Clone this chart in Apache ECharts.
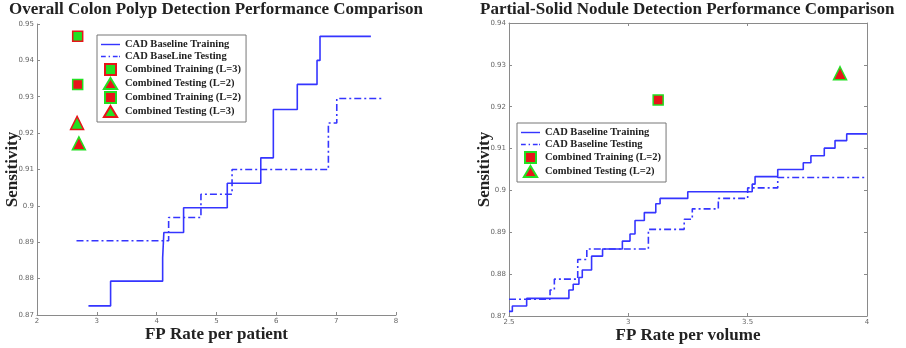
<!DOCTYPE html>
<html><head><meta charset="utf-8">
<script src="https://cdn.jsdelivr.net/npm/echarts@6/dist/echarts.min.js"></script>
<style>html,body{margin:0;padding:0;background:#fff}#c{width:906px;height:348px}</style>
</head><body><div id="c"></div>
<script>
// ---- Left chart: Overall Colon Polyp ----
const L_trainX = [2.86, 3.23, 4.10, 4.12, 4.45, 5.18, 5.74, 5.95, 6.35, 6.68, 6.73, 7.58];
const L_trainY = [0.8725, 0.8793, 0.8857, 0.8927, 0.8995, 0.9062, 0.9132, 0.9265, 0.9334, 0.9400, 0.9466, 0.9466];
const L_testX = [2.66, 4.20, 4.74, 5.26, 6.87, 7.01, 7.78];
const L_testY = [0.8904, 0.8968, 0.9032, 0.9100, 0.9228, 0.9295, 0.9295];
const L_ctrain3 = [2.68, 0.9466];
const L_ctest2 = [2.70, 0.9172];
const L_ctrain2 = [2.68, 0.9334];
const L_ctest3 = [2.67, 0.9228];
// ---- Right chart: Partial-Solid Nodule ----
const R_trainX = [2.50, 2.514, 2.574, 2.751, 2.769, 2.793, 2.807, 2.846, 2.892, 2.975, 3.007, 3.028, 3.067, 3.115, 3.133, 3.249, 3.519, 3.531, 3.626, 3.733, 3.765, 3.821, 3.866, 3.915, 4.00];
const R_trainY = [0.8711, 0.8724, 0.8742, 0.8762, 0.8776, 0.8792, 0.8810, 0.8843, 0.8860, 0.8879, 0.8896, 0.8928, 0.8947, 0.8968, 0.8981, 0.8997, 0.9015, 0.9033, 0.9050, 0.9066, 0.9083, 0.9101, 0.9119, 0.9135, 0.9135];
const R_testX = [2.50, 2.672, 2.690, 2.788, 2.826, 3.084, 3.234, 3.268, 3.377, 3.500, 3.626, 4.00];
const R_testY = [0.8740, 0.8762, 0.8788, 0.8835, 0.8860, 0.8907, 0.8931, 0.8956, 0.8981, 0.9006, 0.9031, 0.9031];
const R_ctrain2 = [3.125, 0.9216];
const R_ctest2 = [3.887, 0.9280];
// tick labels
const L_xTicks = [2, 3, 4, 5, 6, 7, 8];
const L_yTicks = [0.87, 0.88, 0.89, 0.9, 0.91, 0.92, 0.93, 0.94, 0.95];
const R_xTicks = [2.5, 3, 3.5, 4];
const R_yTicks = [0.87, 0.88, 0.89, 0.9, 0.91, 0.92, 0.93, 0.94];

const zip = (xs, ys) => xs.map((x, i) => [x, ys[i]]);
const serif = 'Liberation Serif';
const BLUE = '#3535ff', GREEN = '#22e022', RED = '#e8141a';
const axisGray = '#8a8a8a';
const SQ = 'path://M0,0L10,0L10,10L0,10Z';
const TRI = 'path://M6,0L12,10L0,10Z';
const SOLID = 'path://M0,0L20,0L20,1.5L0,1.5Z';
const DASHDOT = 'path://M0,0L5,0L5,1.5L0,1.5Z M8,0L9.5,0L9.5,1.5L8,1.5Z M12.5,0L17.5,0L17.5,1.5L12.5,1.5Z M19,0L20,0L20,1.5L19,1.5Z';

function xAxis(grid, min, max, interval, name, pos, show) {
  return {
    type: 'value', gridIndex: grid, min, max, interval, position: pos,
    name: show ? name : '', nameLocation: 'middle', nameGap: 11, nameMoveOverlap: false,
    nameTextStyle: {fontFamily: serif, fontWeight: 'bold', fontSize: 17, color: '#222'},
    axisLine: {show: true, onZero: false, lineStyle: {color: axisGray, width: 1}},
    axisTick: {show: true, inside: true, length: 3, lineStyle: {color: axisGray}},
    axisLabel: {show: show, fontSize: 7, color: '#666', margin: 3, fontFamily: 'DejaVu Sans'},
    splitLine: {show: false}
  };
}
function yAxis(grid, min, max, interval, name, pos, show) {
  return {
    type: 'value', gridIndex: grid, min, max, interval, position: pos,
    name: show ? name : '', nameLocation: 'middle', nameGap: 16, nameMoveOverlap: false,
    nameTextStyle: {fontFamily: serif, fontWeight: 'bold', fontSize: 17, color: '#222'},
    axisLine: {show: true, onZero: false, lineStyle: {color: axisGray, width: 1}},
    axisTick: {show: true, inside: true, length: 3, lineStyle: {color: axisGray}},
    axisLabel: {show: show, fontSize: 7, color: '#666', margin: 3, fontFamily: 'DejaVu Sans',
      formatter: v => String(Math.round(v * 100) / 100)},
    splitLine: {show: false}
  };
}
const dashDot = [7, 3, 2, 3];
function lineS(name, data, xi, yi, dash) {
  return {type: 'line', name, data, xAxisIndex: xi, yAxisIndex: yi, step: 'end', symbol: 'none',
    lineStyle: {color: BLUE, width: 1.6, type: dash ? dashDot : 'solid'}, itemStyle: {color: BLUE},
    animation: false};
}
function ptS(name, pt, xi, yi, sym, fill, edge) {
  return {type: 'scatter', name, data: [pt], xAxisIndex: xi, yAxisIndex: yi, symbol: sym,
    symbolSize: sym === 'rect' ? 10 : 13,
    itemStyle: {color: fill, borderColor: edge, borderWidth: 1.5, opacity: 1}, animation: false};
}
const legendText = {fontFamily: serif, fontWeight: 'bold', fontSize: 10.5, color: '#222'};
const legBase = {orient: 'vertical', itemGap: 1, itemWidth: 19, itemHeight: 11,
  padding: [4, 5, 4, 4], borderColor: '#777', borderWidth: 1, backgroundColor: '#fff',
  textStyle: legendText, selectedMode: false, symbolKeepAspect: true};
const li = (n, ic) => ({name: n, icon: ic, itemStyle: {color: BLUE, borderWidth: 0}});
const si = (n, ic) => ({name: n, icon: ic});

const option = {
  backgroundColor: '#fff',
  animation: false,
  title: [
    {text: 'Overall Colon Polyp Detection Performance Comparison', left: 9, top: 1, padding: 0,
      textStyle: {fontFamily: serif, fontWeight: 'bold', fontSize: 17, color: '#222'}},
    {text: 'Partial-Solid Nodule Detection Performance Comparison', left: 480, top: 1, padding: 0,
      textStyle: {fontFamily: serif, fontWeight: 'bold', fontSize: 17, color: '#222'}}
  ],
  grid: [
    {left: 37, top: 24, width: 359, height: 291, containLabel: false, outerBoundsMode: 'none'},
    {left: 509, top: 23, width: 358, height: 293, containLabel: false, outerBoundsMode: 'none'}
  ],
  xAxis: [
    xAxis(0, L_xTicks[0], L_xTicks[L_xTicks.length - 1], 1, 'FP Rate per patient', 'bottom', true),
    xAxis(1, R_xTicks[0], R_xTicks[R_xTicks.length - 1], 0.5, 'FP Rate per volume', 'bottom', true),
    xAxis(1, R_xTicks[0], R_xTicks[R_xTicks.length - 1], 0.5, '', 'top', false)
  ],
  yAxis: [
    yAxis(0, L_yTicks[0], L_yTicks[L_yTicks.length - 1], 0.01, 'Sensitivity', 'left', true),
    yAxis(1, R_yTicks[0], R_yTicks[R_yTicks.length - 1], 0.01, 'Sensitivity', 'left', true),
    yAxis(1, R_yTicks[0], R_yTicks[R_yTicks.length - 1], 0.01, '', 'right', false)
  ],
  legend: [
    Object.assign({}, legBase, {left: 97, top: 35,
      data: [li('CAD Baseline Training', SOLID), li('CAD BaseLine Testing', DASHDOT), si('Combined Training (L=3)', SQ),
             si('Combined Testing (L=2)', TRI), si('Combined Training (L=2)', SQ), si('Combined Testing (L=3)', TRI)]}),
    Object.assign({}, legBase, {left: 517, top: 123,
      data: [li('CAD Baseline Training', SOLID), li('CAD Baseline Testing', DASHDOT), si('Combined Training (L=2)', SQ),
             si('Combined Testing (L=2)', TRI)]})
  ],
  series: [
    lineS('CAD Baseline Training', zip(L_trainX, L_trainY), 0, 0, false),
    lineS('CAD BaseLine Testing', zip(L_testX, L_testY), 0, 0, true),
    ptS('Combined Training (L=3)', L_ctrain3, 0, 0, 'rect', GREEN, RED),
    ptS('Combined Testing (L=2)', L_ctest2, 0, 0, 'triangle', RED, GREEN),
    ptS('Combined Training (L=2)', L_ctrain2, 0, 0, 'rect', RED, GREEN),
    ptS('Combined Testing (L=3)', L_ctest3, 0, 0, 'triangle', GREEN, RED),
    lineS('CAD Baseline Training', zip(R_trainX, R_trainY), 1, 1, false),
    lineS('CAD Baseline Testing', zip(R_testX, R_testY), 1, 1, true),
    ptS('Combined Training (L=2)', R_ctrain2, 1, 1, 'rect', RED, GREEN),
    ptS('Combined Testing (L=2)', R_ctest2, 1, 1, 'triangle', RED, GREEN)
  ]
};
const chart = echarts.init(document.getElementById('c'), null, {renderer: 'canvas'});
chart.setOption(option);
</script></body></html>
